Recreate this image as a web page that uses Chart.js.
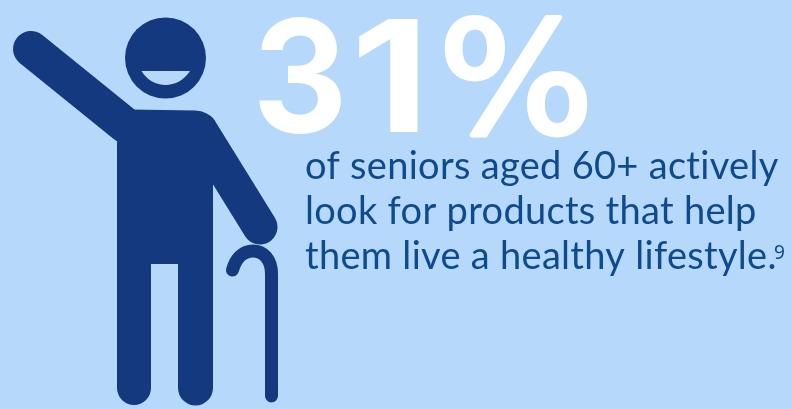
<!DOCTYPE html>
<html>
<head>
<meta charset="utf-8">
<title>31% of seniors</title>
<script src="https://cdn.jsdelivr.net/npm/chart.js@4"></script>
<style>
  html, body { margin: 0; padding: 0; background: #b5d8fb; overflow: hidden; }
  #wrap { width: 792px; height: 409px; }
</style>
</head>
<body>
<div id="wrap"><canvas id="stat" width="792" height="409"></canvas></div>
<script>
const categories = ['Seniors aged 60+'];
const shareValues = [31];
const captionLines = [
  'of seniors aged 60+ actively',
  'look for products that help',
  'them live a healthy lifestyle.'
];
const footnoteMark = '9';

const navy = '#14397f';
const textBlue = '#0f4a8c';
const skyBlue = '#b5d8fb';

// Pictogram of the waving man with a cane
function drawFigure(ctx) {
  ctx.save();
  ctx.fillStyle = navy;
  ctx.strokeStyle = navy;
  ctx.lineCap = 'round';

  // head
  ctx.beginPath();
  ctx.arc(165.5, 58, 40.5, 0, Math.PI * 2);
  ctx.fill();

  // smile
  ctx.fillStyle = skyBlue;
  ctx.beginPath();
  ctx.moveTo(141.5, 71);
  ctx.lineTo(190, 71);
  ctx.bezierCurveTo(184, 80, 175, 85, 165.5, 85);
  ctx.bezierCurveTo(156, 85, 147, 80, 141.5, 71);
  ctx.fill();
  ctx.fillStyle = navy;

  // raised arm
  ctx.lineWidth = 36;
  ctx.beginPath();
  ctx.moveTo(31, 49);
  ctx.lineTo(125, 125);
  ctx.stroke();

  // body and legs
  ctx.beginPath();
  ctx.moveTo(130, 109.5);
  ctx.lineTo(195, 110.5);
  ctx.quadraticCurveTo(208, 111, 215, 121);
  ctx.lineTo(213, 182);
  ctx.lineTo(213, 388);
  ctx.arc(195.5, 388, 17.5, 0, Math.PI);
  ctx.lineTo(178, 264);
  ctx.lineTo(151, 264);
  ctx.lineTo(151, 388);
  ctx.arc(134, 388, 17, 0, Math.PI);
  ctx.lineTo(117, 142);
  ctx.closePath();
  ctx.fill();

  // lowered arm
  ctx.lineWidth = 35;
  ctx.beginPath();
  ctx.moveTo(200, 130);
  ctx.lineTo(260, 227);
  ctx.stroke();

  // cane
  ctx.lineWidth = 13;
  ctx.beginPath();
  ctx.moveTo(271.5, 396);
  ctx.lineTo(271.5, 274);
  ctx.bezierCurveTo(271.5, 259, 263, 251, 253, 251);
  ctx.bezierCurveTo(243, 251, 236, 258, 232.5, 270);
  ctx.stroke();
  ctx.restore();
}

// Draw one glyph stretched to fill a box, thickened by an optional outline
function fitGlyph(ctx, text, font, left, right, top, bottom, outline = 0) {
  ctx.save();
  ctx.font = font;
  const m = ctx.measureText(text);
  const w = m.actualBoundingBoxLeft + m.actualBoundingBoxRight;
  const h = m.actualBoundingBoxAscent + m.actualBoundingBoxDescent;
  ctx.translate(left + outline / 2, top + outline / 2);
  ctx.scale((right - left - outline) / w, (bottom - top - outline) / h);
  ctx.fillText(text, m.actualBoundingBoxLeft, m.actualBoundingBoxAscent);
  if (outline) {
    ctx.strokeStyle = ctx.fillStyle;
    ctx.lineWidth = outline;
    ctx.lineJoin = 'round';
    ctx.strokeText(text, m.actualBoundingBoxLeft, m.actualBoundingBoxAscent);
  }
  ctx.restore();
}

const infographic = {
  id: 'infographic',
  beforeDraw(chart) {
    const ctx = chart.ctx;
    ctx.save();
    ctx.fillStyle = skyBlue;
    ctx.fillRect(0, 0, chart.width, chart.height);
    ctx.restore();
  },
  afterDraw(chart) {
    const ctx = chart.ctx;
    drawFigure(ctx);

    ctx.save();
    ctx.textBaseline = 'alphabetic';
    ctx.textAlign = 'left';

    // big number
    const digits = String(shareValues[0]);
    ctx.fillStyle = '#ffffff';
    fitGlyph(ctx, digits[0], '700 160px Inter', 259, 341, 17, 134);
    fitGlyph(ctx, digits[1], '700 160px Inter', 359, 418, 19, 132);
    fitGlyph(ctx, '%', '160px "DejaVu Sans"', 444, 588, 14, 137, 5);

    // caption
    ctx.fillStyle = textBlue;
    ctx.font = '38px Lato';
    ctx.letterSpacing = '0.3px';
    captionLines.forEach((line, i) => {
      ctx.fillText(line, 305, 179 + i * 45);
    });
    ctx.letterSpacing = '0px';
    ctx.font = '19px "Noto Sans"';
    ctx.fillText(footnoteMark, 774, 259);
    ctx.restore();
  }
};

const statChart = new Chart(document.getElementById('stat').getContext('2d'), {
  type: 'bar',
  data: {
    labels: categories,
    datasets: [{
      label: 'Share of seniors (%)',
      data: shareValues,
      backgroundColor: 'transparent'
    }]
  },
  options: {
    responsive: false,
    animation: false,
    plugins: {
      legend: { display: false },
      tooltip: { enabled: false }
    },
    scales: {
      x: { display: false },
      y: { display: false, beginAtZero: true }
    }
  },
  plugins: [infographic]
});
</script>
</body>
</html>
